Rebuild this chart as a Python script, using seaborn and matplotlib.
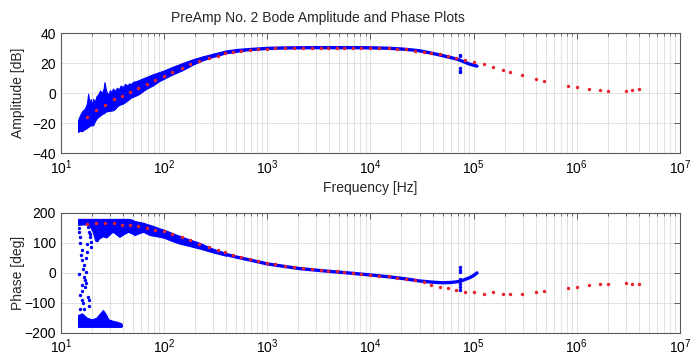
import numpy as np
import pandas as pd
import matplotlib
matplotlib.use("Agg")
import matplotlib.pyplot as plt
import seaborn as sns

# ---------------- data ----------------
# sparse reference measurement (red dots)
red_f = [18, 22, 27, 33, 39, 47, 56, 68, 82,
         100, 120, 150, 180, 220, 270, 330, 390, 470, 560, 680, 820,
         1000, 1200, 1500, 1800, 2200, 2700, 3300, 3900, 4700, 5600, 6800, 8200,
         10000, 12000, 15000, 18000, 22000, 27000, 33000, 39000, 47000, 56000, 68000,
         82000, 100000, 126000, 155000, 193000, 225000, 296000, 400000, 480000,
         830000, 1000000, 1300000, 1670000, 2030000, 2980000, 3450000, 4000000]
red_amp = [-16, -11, -8, -4, -2, 1, 3.5, 6, 8.5,
           11.5, 14, 17, 19.5, 21.5, 23.5, 25, 26.5, 27.5, 28.2, 28.8, 29.2,
           29.5, 29.8, 30, 30.1, 30.2, 30.2, 30.2, 30.2, 30.2, 30.2, 30.2, 30.2,
           30.1, 30.0, 29.8, 29.5, 29.1, 28.4, 27.6, 26.8, 26.0, 24.9, 23.6,
           22.4, 20.7, 19.3, 17.1, 15.3, 14.2, 11.8, 9.3, 8.2,
           4.9, 3.8, 2.9, 2.0, 1.6, 1.3, 1.8, 2.4]
red_phase = [162, 165, 165, 165, 161, 158, 155, 150, 144,
             138, 130, 118, 108, 97, 86, 76, 68, 60, 53, 46, 39,
             33, 28, 23, 19, 15, 12, 9, 7, 5, 3, 0, -3,
             -6, -9, -12, -16, -20, -25, -31, -40, -46, -52, -56,
             -63, -65, -69, -65, -69, -69, -69, -63, -61,
             -50, -47, -41, -37, -37, -34, -36, -36]

# dense measurement (blue): noisy low-frequency band envelopes
amp_band_f = [14.7, 15.3, 15.9, 16.4, 17.1, 17.7, 18.0, 18.4, 18.9, 19.5, 20.0, 20.6,
              21.3, 22.2, 23.0, 24.0, 25.0, 26.0, 26.5, 27.2, 28.0, 29.0, 30.0, 31.0,
              32.0, 33.5, 35.0, 36.5, 38.0, 40.0, 42.0, 44.0, 46.0, 48.0, 50.0, 54.0,
              58.0, 66.0, 78.0, 90.0, 100, 120, 148, 191, 240, 288, 403, 600]
amp_band_hi = [-18, -15, -12.7, -11.5, -10.4, -8, -6, -0.4, -6, -4, -8, -3.8,
               -6, -2, -1, 1.8, 0, 3, 7.3, 3, 0, -0.5, 2, 0.5,
               3, 1.5, 3.5, 2.5, 5, 4, 6.2, 5, 6.5, 6, 7.5, 8,
               8.9, 10.5, 12.5, 14, 15.1, 17.4, 19.8, 22.6, 24.6, 26.0, 28.2, 29.5]
amp_band_lo = [-26, -25, -25.5, -24.9, -24, -23.5, -23, -22.7, -22, -21.5, -21.5, -21.5,
               -19, -17, -16, -15, -14, -13.5, -13, -12.5, -12, -12, -11.8, -11.6,
               -11.5, -10.5, -9, -8, -7.5, -7, -6, -5, -4, -3, -2.5, -1.5,
               -0.4, 2.5, 5.1, 8, 9.6, 12.3, 15.0, 19.0, 22.0, 23.8, 26.6, 28.3]

# dense measurement (blue): smooth part
amp_line_f = [300, 400, 500, 700, 1000, 1500, 2000, 3000, 5000, 7000, 10000, 15000,
              20000, 25000, 30000, 40000, 50000, 60000, 70000, 80000, 90000, 100000, 108000]
amp_line_v = [25.0, 27.3, 28.3, 29.1, 29.8, 30.1, 30.2, 30.3, 30.3, 30.3, 30.2, 29.9,
              29.4, 28.8, 28.2, 26.5, 25.0, 23.7, 22.5, 21.0, 19.5, 18.6, 18.0]

amp_spike_f = [74600, 74600, 74600, 74600, 74600]
amp_spike_v = [25.5, 24.5, 16.5, 15, 14]

ph_top_f = [14.7, 17, 19, 20.5, 21.5, 22.5, 23.5, 25.6, 27.7, 30, 32, 34.5, 37, 41, 45,
            48.5, 52, 57, 63, 68, 73, 82, 91, 100, 114, 140, 165, 222, 300, 400]
ph_top_hi = [180, 180, 180, 180, 180, 180, 180, 180, 180, 180, 180, 180, 180, 180, 180,
             178, 173, 170, 167, 163, 160, 154, 148, 144, 136, 124, 115, 100, 80, 66]
ph_top_lo = [160, 162, 158, 135, 108, 105, 115, 122, 118, 130, 137, 128, 120, 130, 137,
             132, 126, 132, 137, 131, 126, 123, 120, 117, 109, 98, 92, 81, 68, 57]

ph_bot_f = [14.7, 16, 18, 20, 22, 24, 25.6, 27, 29, 32, 35, 38.5, 39]
ph_bot_hi = [-140, -135, -150, -155, -150, -135, -124, -135, -155, -160, -163, -168, -172]
ph_bot_lo = [-180, -180, -180, -180, -180, -180, -180, -180, -180, -180, -180, -180, -178]

ph_streak_f = [14.9, 15.3, 15.5, 15.9, 16.2, 16.4, 16.7, 17.1, 15.3, 15.9, 16.4, 16.7,
               17.5, 17.7, 17.7, 18.4, 18.8, 19.1, 19.4, 19.8, 18.8, 18.4, 15.1, 16.0,
               15.0, 15.6, 16.8, 17.3, 18.1, 19.0, 15.2, 16.1, 17.9, 18.6]
ph_streak_v = [137, 120, 98, 76, 42, 14, -13, -47, -74, -91, -102, -119,
               48, 3, -35, -80, -91, 120, 103, 87, 137, 153, -5, -60,
               150, 60, 25, -25, 95, 130, -120, -40, 70, -110]

ph_line_f = [200, 300, 470, 700, 1000, 1500, 2100, 3000, 4000, 6000, 10000, 15000,
             22000, 30000, 40000, 50000, 60000, 68000, 74000, 80000, 93000, 100000, 108000]
ph_line_v = [91, 73, 55, 42, 30, 21, 14, 9, 5, 0, -7, -13,
             -20, -27, -31, -33, -32, -30, -28, -24, -15, -9, 0]

ph_spike_f = [74600] * 8
ph_spike_v = [20, 11, 2, -19, -28, -38, -48, -56]

x_ticks = [1e1, 1e2, 1e3, 1e4, 1e5, 1e6, 1e7]
amp_ticks = [-40, -20, 0, 20, 40]
ph_ticks = [-200, -100, 0, 100, 200]

# ---------------- styling ----------------
sns.set_style("white")
plt.rcParams["font.family"] = ["Liberation Sans", "DejaVu Sans"]
plt.rcParams["mathtext.fontset"] = "custom"
plt.rcParams["mathtext.rm"] = "Liberation Sans"
plt.rcParams["mathtext.it"] = "Liberation Sans"

BLUE = "#0000ff"
RED = "#e8202a"
GRID = "#dcdcdc"
EDGE = "#5a5a5a"

fig = plt.figure(figsize=(6.91, 3.56), dpi=100)
ax1 = fig.add_axes([0.088, 0.570, 0.896, 0.337])
ax2 = fig.add_axes([0.088, 0.065, 0.896, 0.337])

red_df = pd.DataFrame({"f": red_f, "amp": red_amp, "phase": red_phase})
amp_line_df = pd.DataFrame({"f": amp_line_f, "v": amp_line_v})
ph_line_df = pd.DataFrame({"f": ph_line_f, "v": ph_line_v})
amp_spike_df = pd.DataFrame({"f": amp_spike_f, "v": amp_spike_v})
ph_spike_df = pd.DataFrame({"f": ph_spike_f, "v": ph_spike_v})
streak_df = pd.DataFrame({"f": ph_streak_f, "v": ph_streak_v})

# amplitude
ax1.fill_between(amp_band_f, amp_band_lo, amp_band_hi, color=BLUE, lw=0.8, edgecolor=BLUE, zorder=2)
sns.lineplot(data=amp_line_df, x="f", y="v", ax=ax1, color=BLUE, lw=2.4, zorder=2)
sns.scatterplot(data=amp_spike_df, x="f", y="v", ax=ax1, color=BLUE, s=6, linewidth=0, zorder=2)
sns.scatterplot(data=red_df, x="f", y="amp", ax=ax1, color=RED, s=6, linewidth=0, zorder=3)

# phase
ax2.fill_between(ph_top_f, ph_top_lo, ph_top_hi, color=BLUE, lw=0.8, edgecolor=BLUE, zorder=2)
ax2.fill_between(ph_bot_f, ph_bot_lo, ph_bot_hi, color=BLUE, lw=0.8, edgecolor=BLUE, zorder=2)
sns.scatterplot(data=streak_df, x="f", y="v", ax=ax2, color=BLUE, s=6, linewidth=0, zorder=2)
sns.lineplot(data=ph_line_df, x="f", y="v", ax=ax2, color=BLUE, lw=2.4, zorder=2)
sns.scatterplot(data=ph_spike_df, x="f", y="v", ax=ax2, color=BLUE, s=6, linewidth=0, zorder=2)
sns.scatterplot(data=red_df, x="f", y="phase", ax=ax2, color=RED, s=6, linewidth=0, zorder=3)

for ax, yt in ((ax1, amp_ticks), (ax2, ph_ticks)):
    ax.set_xscale("log")
    ax.set_xlim(1e1, 1e7)
    ax.set_xticks(x_ticks)
    ax.set_ylim(yt[0], yt[-1])
    ax.set_yticks(yt)
    ax.grid(True, which="major", color=GRID, lw=0.6)
    ax.grid(True, which="minor", axis="x", color=GRID, lw=0.6)
    ax.tick_params(which="both", direction="in", top=True, right=True,
                   colors=EDGE, labelcolor="black", labelsize=10)
    ax.tick_params(which="major", length=4, width=0.7)
    ax.tick_params(which="minor", length=2.5, width=0.6)
    for s in ax.spines.values():
        s.set_color(EDGE)
        s.set_linewidth(0.8)
    ax.set_xlabel("")
    ax.set_ylabel("")

ax1.set_ylabel("Amplitude [dB]", fontsize=10)
ax2.set_ylabel("Phase [deg]", fontsize=10)
ax1.yaxis.set_label_coords(-0.058, 0.5)
ax2.yaxis.set_label_coords(-0.058, 0.5)
ax1.set_xlabel("Frequency [Hz]", fontsize=10, labelpad=3)

fig.text(318 / 691, 1 - 18 / 356, "PreAmp No. 2 Bode Amplitude and Phase Plots",
         ha="center", va="center", fontsize=10)

fig.savefig("out.png", dpi=100)
